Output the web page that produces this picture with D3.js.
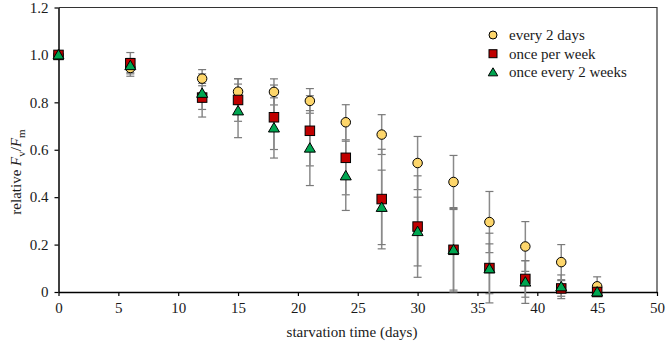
<!DOCTYPE html>
<html>
<head>
<meta charset="utf-8">
<script src="https://cdn.jsdelivr.net/npm/d3@7"></script>
<style>
    body { margin: 0; background: #fff; }
    svg text { font-family: "Liberation Serif", "Times New Roman", serif; fill: #1a1a1a; }
</style>
</head>
<body>
<svg id="chart" width="667" height="342"></svg>
<script>
// starvation days
var days = [0, 6, 12, 15, 18, 21, 24, 27, 30, 33, 36, 39, 42, 45];

// every 2 days
var every2Days = [1.0, 0.945, 0.90, 0.845, 0.844, 0.806, 0.716, 0.664, 0.544, 0.464, 0.295, 0.192, 0.126, 0.024];
var every2DaysErr = [0, 0.035, 0.02, 0.054, 0.055, 0.052, 0.074, 0.084, 0.112, 0.112, 0.129, 0.105, 0.074, 0.04];

// once per week
var oncePerWeek = [1.0, 0.965, 0.82, 0.81, 0.737, 0.68, 0.566, 0.392, 0.276, 0.178, 0.101, 0.055, 0.015, 0.0];
var oncePerWeekErr = [0, 0.045, 0.05, 0.09, 0.136, 0.148, 0.156, 0.21, 0.214, 0.178, 0.147, 0.077, 0.033, 0.01];

// once every 2 weeks
var once2Weeks = [1.0, 0.955, 0.838, 0.764, 0.692, 0.607, 0.49, 0.357, 0.255, 0.178, 0.098, 0.042, 0.022, 0.0];
var once2WeeksErr = [0, 0.03, 0.1, 0.113, 0.127, 0.158, 0.146, 0.157, 0.145, 0.17, 0.105, 0.09, 0.05, 0.01];

var xTicks = [0, 5, 10, 15, 20, 25, 30, 35, 40, 45, 50];
var yTicks = [0, 0.2, 0.4, 0.6, 0.8, 1.0, 1.2];
var seriesNames = ["every 2 days", "once per week", "once every 2 weeks"];

var svg = d3.select("#chart");
var margin = {left: 58.5, right: 10, top: 7.5, bottom: 50};
var W = 667, H = 342;

var x = d3.scaleLinear().domain([0, 50]).range([margin.left, W - margin.right]);
var y = d3.scaleLinear().domain([0, 1.2]).range([H - margin.bottom, margin.top]);

var series = [
    {name: seriesNames[0], vals: every2Days, err: every2DaysErr, shape: "circle", fill: "#fdd66b"},
    {name: seriesNames[1], vals: oncePerWeek, err: oncePerWeekErr, shape: "square", fill: "#c00000"},
    {name: seriesNames[2], vals: once2Weeks, err: once2WeeksErr, shape: "triangle", fill: "#00a651"}
];

/**
 * draws one marker at a point
 */
function marker(g, shape, cx, cy, size, fill) {
    if (shape === "circle") {
        g.append("circle").attr("cx", cx).attr("cy", cy).attr("r", size / 2)
            .attr("fill", fill).attr("stroke", "#000").attr("stroke-width", 1);
    } else if (shape === "square") {
        g.append("rect").attr("x", cx - size / 2).attr("y", cy - size / 2)
            .attr("width", size).attr("height", size)
            .attr("fill", fill).attr("stroke", "#000").attr("stroke-width", 1);
    } else {
        var h = size * 0.9;
        g.append("path")
            .attr("d", "M" + cx + "," + (cy - h * 0.6) + "L" + (cx + size / 2 + 0.5) + "," + (cy + h * 0.45) +
                "L" + (cx - size / 2 - 0.5) + "," + (cy + h * 0.45) + "Z")
            .attr("fill", fill).attr("stroke", "#000").attr("stroke-width", 1);
    }
}

// frame (top + right)
svg.append("path")
    .attr("d", "M" + x(0) + "," + y(1.2) + "H" + x(50) + "V" + y(0))
    .attr("fill", "none").attr("stroke", "#333").attr("stroke-width", 1.2);

// axes
var xAxis = svg.append("g").attr("transform", "translate(0," + y(0) + ")")
    .call(d3.axisBottom(x).tickValues(xTicks).tickSize(4).tickSizeOuter(0).tickPadding(6));
var yAxis = svg.append("g").attr("transform", "translate(" + x(0) + ",0)")
    .call(d3.axisLeft(y).tickValues(yTicks).tickSize(4).tickSizeOuter(0).tickPadding(6)
        .tickFormat(function(d) { return d === 0 ? "0" : d3.format(".1f")(d); }));

[xAxis, yAxis].forEach(function(a) {
    a.select(".domain").attr("stroke", "#000").attr("stroke-width", 1.5);
    a.selectAll(".tick line").attr("stroke", "#000").attr("stroke-width", 1.2);
    a.selectAll(".tick text").attr("font-size", 15).attr("fill", "#1a1a1a")
        .style("font-family", "'Liberation Serif', serif");
});

// error bars under everything
var errG = svg.append("g");
series.forEach(function(s) {
    days.forEach(function(d, i) {
        if (!s.err[i]) return;
        var cx = x(d), y1 = y(s.vals[i] + s.err[i]), y2 = y(s.vals[i] - s.err[i]);
        errG.append("line").attr("x1", cx).attr("x2", cx).attr("y1", y1).attr("y2", y2)
            .attr("stroke", "#8a8a8a").attr("stroke-width", 1.5);
        [y1, y2].forEach(function(yy) {
            errG.append("line").attr("x1", cx - 4).attr("x2", cx + 4).attr("y1", yy).attr("y2", yy)
                .attr("stroke", "#7a7a7a").attr("stroke-width", 1.2);
        });
    });
});

// markers
var markG = svg.append("g");
series.forEach(function(s) {
    days.forEach(function(d, i) {
        marker(markG, s.shape, x(d), y(s.vals[i]), s.shape === "triangle" ? 10 : 9.5, s.fill);
    });
});

// legend
var leg = svg.append("g");
series.forEach(function(s, i) {
    var ly = 35 + i * 18.7;
    marker(leg, s.shape, 493, ly, s.shape === "triangle" ? 8.5 : 8, s.fill);
    leg.append("text").attr("x", 509).attr("y", ly + 5).attr("font-size", 15).text(s.name);
});

// axis titles
svg.append("text").attr("x", 352).attr("y", 337).attr("text-anchor", "middle")
    .attr("font-size", 15).text("starvation time (days)");

var yt = svg.append("text").attr("transform", "translate(21,172) rotate(-90)")
    .attr("text-anchor", "middle").attr("font-size", 15);
yt.append("tspan").text("relative ");
yt.append("tspan").attr("font-style", "italic").text("F");
yt.append("tspan").attr("font-size", 11).attr("dy", 4).text("v");
yt.append("tspan").attr("dy", -4).text("/");
yt.append("tspan").attr("font-style", "italic").text("F");
yt.append("tspan").attr("font-size", 11).attr("dy", 4).text("m");
</script>
</body>
</html>
